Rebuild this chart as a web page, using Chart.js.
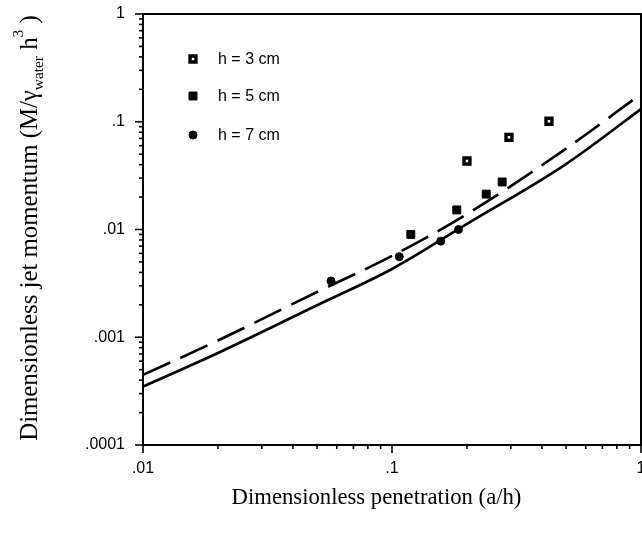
<!DOCTYPE html>
<html><head><meta charset="utf-8">
<script src="https://cdn.jsdelivr.net/npm/chart.js@4.4.0/dist/chart.umd.min.js"></script>
<style>html,body{margin:0;padding:0;background:#fff;}#wrap{width:642px;height:538px;position:relative;}</style>
</head><body><div id="wrap"><canvas id="c" width="642" height="538"></canvas></div>
<script>
// ---- data ----
const xTickValues = [0.01, 0.1, 1];
const xTickLabels = ['.01', '.1', '1'];
const yTickValues = [0.0001, 0.001, 0.01, 0.1, 1];
const yTickLabels = ['.0001', '.001', '.01', '.1', '1'];
const seriesNames = ['h = 3 cm', 'h = 5 cm', 'h = 7 cm'];
const h3X = [0.200, 0.295, 0.427];
const h3Y = [0.0432, 0.0717, 0.101];
const h5X = [0.119, 0.182, 0.239, 0.277];
const h5Y = [0.0090, 0.0152, 0.0213, 0.0276];
const h7X = [0.0569, 0.107, 0.157, 0.185];
const h7Y = [0.00333, 0.0056, 0.0078, 0.0100];
const curveX = [0.01, 0.02, 0.05, 0.1, 0.2, 0.5, 1];
const solidY = [0.000348, 0.000714, 0.00198, 0.0043, 0.01125, 0.0405, 0.131];
const dashedY = [0.000447, 0.000933, 0.00263, 0.00568, 0.0139, 0.0563, 0.181];
const xTitle = 'Dimensionless penetration (a/h)';

const pts = (xs, ys) => xs.map((x, i) => ({x, y: ys[i]}));

const markerStyles = [
  {pointStyle: 'rect', radius: 4.2, borderWidth: 3.4, backgroundColor: '#fff', borderColor: '#000'},
  {pointStyle: 'rect', radius: 5.6, borderWidth: 1, backgroundColor: '#000', borderColor: '#000'},
  {pointStyle: 'circle', radius: 4, borderWidth: 1, backgroundColor: '#000', borderColor: '#000'}
];

const datasets = [
  {label: seriesNames[0], data: pts(h3X, h3Y), showLine: false, pointStyle: markerStyles[0].pointStyle, pointRadius: markerStyles[0].radius, pointBorderWidth: markerStyles[0].borderWidth, pointBackgroundColor: '#fff', pointBorderColor: '#000'},
  {label: seriesNames[1], data: pts(h5X, h5Y), showLine: false, pointStyle: markerStyles[1].pointStyle, pointRadius: markerStyles[1].radius, pointBorderWidth: markerStyles[1].borderWidth, pointBackgroundColor: '#000', pointBorderColor: '#000'},
  {label: seriesNames[2], data: pts(h7X, h7Y), showLine: false, pointStyle: markerStyles[2].pointStyle, pointRadius: markerStyles[2].radius, pointBorderWidth: markerStyles[2].borderWidth, pointBackgroundColor: '#000', pointBorderColor: '#000'},
  {label: 'dashed', data: pts(curveX, dashedY), showLine: true, borderColor: '#000', borderWidth: 2.6, borderDash: [30, 11], pointRadius: 0, tension: 0.4, cubicInterpolationMode: 'monotone', fill: false},
  {label: 'solid', data: pts(curveX, solidY), showLine: true, borderColor: '#000', borderWidth: 2.6, pointRadius: 0, tension: 0.4, cubicInterpolationMode: 'monotone', fill: false}
];

const decoPlugin = {
  id: 'deco',
  afterDraw(chart) {
    const {ctx, chartArea: a, scales: {x, y}} = chart;
    ctx.save();
    ctx.strokeStyle = '#000';
    ctx.lineWidth = 2;
    ctx.strokeRect(a.left, a.top, a.right - a.left, a.bottom - a.top);
    ctx.lineWidth = 1.6;
    // minor + major tick marks along the log axes
    const drawTicks = (scale, lo, hi, horizontal) => {
      for (let e = lo; e <= hi; e++) {
        for (let m = 1; m <= 9; m++) {
          const v = m * Math.pow(10, e);
          if (v < scale.min * 0.999 || v > scale.max * 1.001) continue;
          const p = scale.getPixelForValue(v);
          const len = m === 1 ? 8 : 4;
          ctx.beginPath();
          if (horizontal) { ctx.moveTo(p, a.bottom); ctx.lineTo(p, a.bottom + len); }
          else { ctx.moveTo(a.left, p); ctx.lineTo(a.left - len, p); }
          ctx.stroke();
        }
      }
    };
    drawTicks(x, -2, 0, true);
    drawTicks(y, -4, 0, false);

    // legend inside the plot
    const lx = 193, tx = 218;
    const rows = [59, 96, 135];
    ctx.font = '16px "Liberation Sans", Arial, sans-serif';
    ctx.textBaseline = 'middle';
    ctx.textAlign = 'left';
    rows.forEach((ry, i) => {
      const ms = markerStyles[i];
      ctx.fillStyle = ms.backgroundColor;
      ctx.strokeStyle = ms.borderColor;
      ctx.lineWidth = ms.borderWidth;
      Chart.helpers.drawPoint(ctx, {pointStyle: ms.pointStyle, radius: ms.radius, rotation: 0, borderWidth: ms.borderWidth}, lx, ry);
      ctx.fillStyle = '#000';
      ctx.fillText(seriesNames[i], tx, ry + 1);
    });

    // x title
    ctx.font = '100px "Liberation Serif", "Times New Roman", serif';
    const fx = 100 * 290 / ctx.measureText(xTitle).width;
    ctx.font = fx.toFixed(1) + 'px "Liberation Serif", "Times New Roman", serif';
    ctx.textAlign = 'center';
    ctx.textBaseline = 'alphabetic';
    ctx.fillText(xTitle, 376.5, 504);

    // y title with subscript / superscript
    const parts = [
      {t: 'Dimensionless jet momentum (M/\u03b3', k: 1, dy: 0},
      {t: 'water', k: 0.62, dy: 5},
      {t: ' h', k: 1, dy: 0},
      {t: '3', k: 0.62, dy: -12},
      {t: ' )', k: 1, dy: 0}
    ];
    let w100 = 0;
    parts.forEach(p => { ctx.font = (100 * p.k) + 'px "Liberation Serif", serif'; w100 += ctx.measureText(p.t).width; });
    const fy = 100 * 426 / w100;
    let total = 0;
    parts.forEach(p => { ctx.font = (fy * p.k).toFixed(1) + 'px "Liberation Serif", serif'; p.w = ctx.measureText(p.t).width; total += p.w; });
    ctx.translate(37, 228);
    ctx.rotate(-Math.PI / 2);
    ctx.textAlign = 'left';
    let cx = -total / 2;
    parts.forEach(p => {
      ctx.font = (fy * p.k).toFixed(1) + 'px "Liberation Serif", serif';
      ctx.fillText(p.t, cx, p.dy * fy / 22);
      cx += p.w;
    });
    ctx.restore();
  }
};

new Chart(document.getElementById('c'), {
  type: 'scatter',
  data: {datasets},
  options: {
    responsive: false,
    animation: false,
    devicePixelRatio: 1,
    layout: {autoPadding: false, padding: {top: 14, right: 1, left: 0, bottom: 0}},
    plugins: {legend: {display: false}, tooltip: {enabled: false}},
    scales: {
      x: {
        type: 'logarithmic', min: 0.01, max: 1,
        afterBuildTicks: s => { s.ticks = xTickValues.map(v => ({value: v})); },
        afterFit: s => { s.height = 93; s.paddingLeft = 0; s.paddingRight = 0; },
        grid: {display: false, drawTicks: false},
        border: {display: false},
        ticks: {
          autoSkip: false, maxRotation: 0, padding: 14, color: '#000',
          font: {family: '"Liberation Sans", Arial, sans-serif', size: 16},
          callback: (v) => { const i = xTickValues.findIndex(t => Math.abs(t - v) / t < 1e-6); return i >= 0 ? xTickLabels[i] : ''; }
        }
      },
      y: {
        type: 'logarithmic', min: 0.0001, max: 1,
        afterBuildTicks: s => { s.ticks = yTickValues.map(v => ({value: v})); },
        afterFit: s => { s.width = 143; s.paddingTop = 0; s.paddingBottom = 0; },
        grid: {display: false, drawTicks: false},
        border: {display: false},
        ticks: {
          autoSkip: false, padding: 18, color: '#000',
          font: {family: '"Liberation Sans", Arial, sans-serif', size: 16},
          callback: (v) => { const i = yTickValues.findIndex(t => Math.abs(t - v) / t < 1e-6); return i >= 0 ? yTickLabels[i] : ''; }
        }
      }
    }
  },
  plugins: [decoPlugin]
});
</script>
</body></html>
